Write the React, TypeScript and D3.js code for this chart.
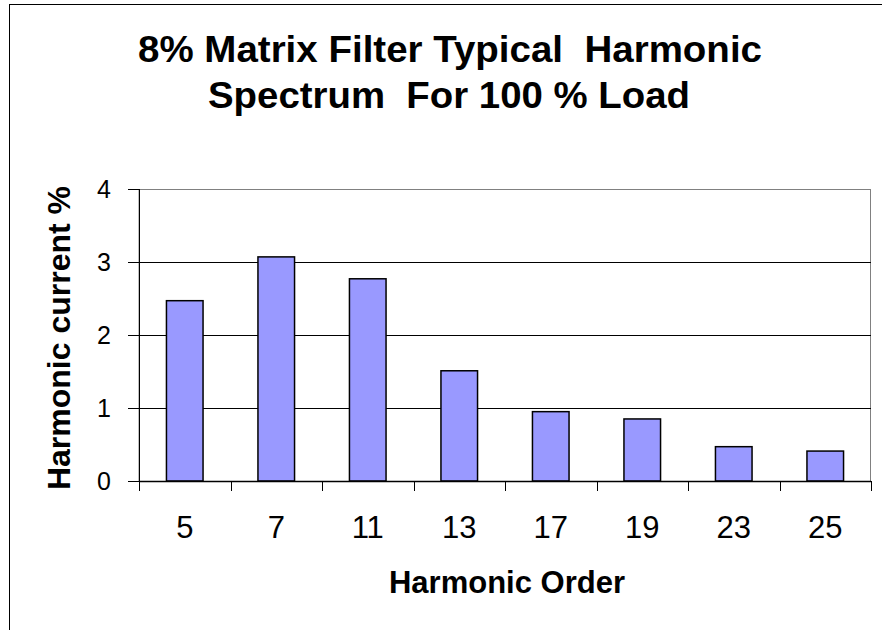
import React from 'react';
import * as d3 from 'd3';

// harmonic order vs. current (%)
const orders = ['5', '7', '11', '13', '17', '19', '23', '25'];
const currents = [2.47, 3.07, 2.77, 1.51, 0.95, 0.85, 0.47, 0.41];
const yTicks = [0, 1, 2, 3, 4];

const titleLines = ['8% Matrix Filter Typical  Harmonic', 'Spectrum  For 100 % Load'];

const W = 882;
const H = 630;
const left = 139;
const right = 871;
const top = 189;
const bottom = 481;
const font = 'Arial, "Liberation Sans", Helvetica, sans-serif';

export default function App() {
  const x = d3.scaleBand<string>()
    .domain(orders)
    .range([left, right])
    .paddingInner(0.6)
    .paddingOuter(0.3);
  const y = d3.scaleLinear().domain([0, 4]).range([bottom, top]);
  const step = x.step();

  return (
    <div style={{ position: 'fixed', left: 0, top: 0, width: W, height: H, overflow: 'hidden', background: '#fff' }}>
      <svg width={W} height={H} style={{ display: 'block' }}>
        {/* chart border, runs off the right and bottom edges */}
        <rect x={9.5} y={4.5} width={1000} height={800} fill="#fff" stroke="#000" strokeWidth={1} />

        {/* title */}
        <text x={450} y={62} textAnchor="middle" fontFamily={font} fontWeight="bold" fontSize={37}
          textLength={624} lengthAdjust="spacingAndGlyphs" style={{ whiteSpace: 'pre' }}>
          {titleLines[0]}
        </text>
        <text x={449} y={108} textAnchor="middle" fontFamily={font} fontWeight="bold" fontSize={37}
          textLength={482} lengthAdjust="spacingAndGlyphs" style={{ whiteSpace: 'pre' }}>
          {titleLines[1]}
        </text>

        {/* plot area border (grey) */}
        <rect x={left} y={top + 0.5} width={right - left - 0.5} height={bottom - top} fill="none" stroke="#808080" strokeWidth={1} />

        {/* gridlines */}
        {yTicks.filter(t => t > 0 && t < 4).map(t => (
          <line key={'g' + t} x1={left} x2={right} y1={Math.round(y(t)) + 0.5} y2={Math.round(y(t)) + 0.5}
            stroke="#000" strokeWidth={1} />
        ))}

        {/* bars */}
        {orders.map((o, i) => (
          <rect key={o} x={x(o)} y={y(currents[i])} width={x.bandwidth()} height={bottom - y(currents[i])}
            fill="#9999FF" stroke="#000" strokeWidth={1.5} />
        ))}

        {/* y axis */}
        <line x1={left + 0.5} x2={left + 0.5} y1={top} y2={bottom} stroke="#000" strokeWidth={1} />
        {yTicks.map(t => (
          <g key={'y' + t}>
            <line x1={left - 11} x2={left} y1={Math.round(y(t)) + 0.5} y2={Math.round(y(t)) + 0.5} stroke="#000" />
            <text x={111} y={y(t)} dy="0.36em" textAnchor="end" fontFamily={font} fontSize={25}>{t}</text>
          </g>
        ))}

        {/* x axis */}
        <line x1={left} x2={right} y1={bottom + 0.5} y2={bottom + 0.5} stroke="#000" strokeWidth={1.5} />
        {d3.range(orders.length + 1).map(i => (
          <line key={'xt' + i} x1={Math.round(left + i * step) + 0.5} x2={Math.round(left + i * step) + 0.5}
            y1={bottom} y2={bottom + 10} stroke="#000" />
        ))}
        {orders.map(o => (
          <text key={'xl' + o} x={(x(o) as number) + x.bandwidth() / 2} y={538} textAnchor="middle"
            fontFamily={font} fontSize={31}>{o}</text>
        ))}

        {/* axis titles */}
        <text x={507} y={593} textAnchor="middle" fontFamily={font} fontWeight="bold" fontSize={31}>Harmonic Order</text>
        <text transform="translate(70,338) rotate(-90)" textAnchor="middle"
          fontFamily={font} fontWeight="bold" fontSize={32}>Harmonic current %</text>
      </svg>
    </div>
  );
}
